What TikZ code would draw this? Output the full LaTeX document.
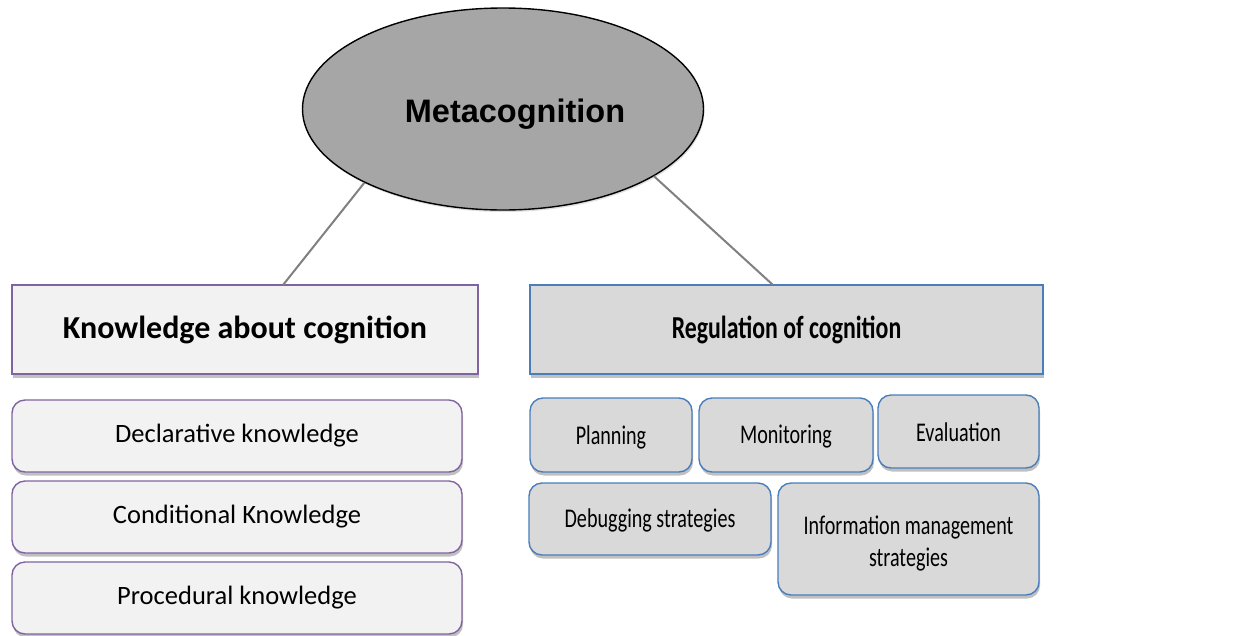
\documentclass[tikz,border=0pt]{standalone}
\usepackage{fontspec}
\setmainfont{Carlito}
\newfontfamily\narrowfont[FakeStretch=0.745]{Carlito}
\newfontfamily\arialfont{Liberation Sans}
\usetikzlibrary{shapes.geometric,shadows}
\definecolor{ellfill}{HTML}{A6A6A6}
\definecolor{purpleline}{HTML}{8064A2}
\definecolor{blueline}{HTML}{4A7EBB}
\definecolor{lightfill}{HTML}{F2F2F2}
\definecolor{grayfill}{HTML}{D9D9D9}
\definecolor{linkgray}{HTML}{808080}
% move text ink down while keeping its box size
\newcommand{\lowerink}[2]{\raisebox{-#1}[\height][\depth]{#2}}
\tikzset{
  softshadow/.style={drop shadow={opacity=0.35,shadow xshift=1pt,shadow yshift=-3.5pt,fill=black!70}},
  titlebox/.style={rectangle,inner sep=0pt,line width=1.4pt,softshadow},
  itembox/.style={rectangle,rounded corners=13pt,inner sep=0pt,line width=1.4pt,softshadow,align=center},
  leftcol/.style={draw=purpleline,fill=lightfill},
  rightcol/.style={draw=blueline,fill=grayfill},
  lefttitle/.style={titlebox,leftcol,font=\fontsize{32}{38}\selectfont\bfseries},
  righttitle/.style={titlebox,rightcol,font=\narrowfont\fontsize{32}{38}\selectfont\bfseries},
  leftitem/.style={itembox,leftcol,font=\fontsize{26.5}{32}\selectfont},
  rightitem/.style={itembox,rightcol,font=\narrowfont\fontsize{27}{32}\selectfont},
  link/.style={draw=linkgray,line width=2pt}
}
\begin{document}
\begin{tikzpicture}[x=1pt,y=-1pt]
\useasboundingbox[fill=white] (0,0) rectangle (1238,635);

% root
\node[ellipse,draw=black,line width=1.4pt,fill=ellfill,minimum width=401pt,minimum height=202pt,
      inner sep=0pt,font=\arialfont\fontsize{32.5}{38}\selectfont\bfseries,
      drop shadow={opacity=0.25,shadow xshift=1pt,shadow yshift=-2pt}]
  (meta) at (503,109) {\hspace*{24pt}\lowerink{5pt}{Metacognition}};

% the two branches
\node[lefttitle,minimum width=466pt,minimum height=89pt] (kab) at (245,329.5) {Knowledge about cognition};
\node[righttitle,minimum width=513pt,minimum height=89pt] (reg) at (786.5,329.5) {Regulation of cognition};

\coordinate (kabtop) at (283,285);
\coordinate (regtop) at (773,285);
\path[link] (meta.208) -- (kabtop);
\path[link] (meta.336) -- (regtop);

% knowledge items
\node[leftitem,minimum width=450pt,minimum height=72pt] (decl) at (237,436) {Declarative knowledge};
\node[leftitem,minimum width=450pt,minimum height=72pt] (cond) at (237,517) {Conditional Knowledge};
\node[leftitem,minimum width=450pt,minimum height=72pt] (proc) at (237,598) {Procedural knowledge};

% regulation items
\node[rightitem,minimum width=162pt,minimum height=74pt] (plan) at (611,435) {\lowerink{2pt}{Planning}};
\node[rightitem,minimum width=174pt,minimum height=74pt] (moni) at (786,435) {\lowerink{2pt}{Monitoring}};
\node[rightitem,minimum width=161pt,minimum height=73pt] (eval) at (958.5,431.5) {\lowerink{1pt}{Evaluation}};
\node[rightitem,minimum width=242pt,minimum height=72pt] (debug) at (650,519) {\lowerink{1pt}{Debugging strategies}};
\node[rightitem,minimum width=261pt,minimum height=112pt] (info) at (908.5,539) {\lowerink{4pt}{Information management}\\\lowerink{4pt}{strategies}};
\end{tikzpicture}
\end{document}
